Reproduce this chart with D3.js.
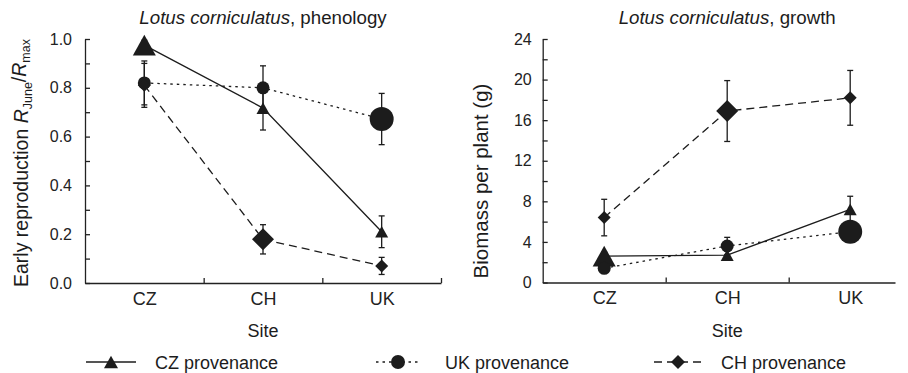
<!DOCTYPE html>
<html>
<head>
<meta charset="utf-8">
<script src="https://cdn.jsdelivr.net/npm/d3@7"></script>
<style>
  body { margin: 0; background: #fff; }
  svg { display: block; font-family: "Liberation Sans", Arial, Helvetica, sans-serif; }
  .axis path, .axis line { stroke: #222; stroke-width: 1.3; }
  .axis text { fill: #222; font-family: "Liberation Sans", Arial, sans-serif; }
</style>
</head>
<body>
<svg id="chart" width="908" height="373"></svg>
<script>
const sites = ['CZ', 'CH', 'UK'];
const provenances = ['CZ provenance', 'UK provenance', 'CH provenance'];
const homeSite = [0, 2, 1]; // index of the site each provenance comes from

// phenology: early reproduction R_June / R_max
const phenCZ = [0.975, 0.717, 0.21];
const phenCZErr = [0.02, 0.09, 0.065];
const phenUK = [0.82, 0.80, 0.672];
const phenUKErr = [0.09, 0.09, 0.105];
const phenCH = [0.81, 0.179, 0.07];
const phenCHErr = [0.09, 0.06, 0.035];
const phenTicks = [0, 0.2, 0.4, 0.6, 0.8, 1.0];
const phenMinor = [0.1, 0.3, 0.5, 0.7, 0.9];

// growth: biomass per plant (g)
const growCZ = [2.6, 2.7, 7.2];
const growCZErr = [0.4, 0.4, 1.3];
const growUK = [1.4, 3.6, 5.0];
const growUKErr = [0.3, 0.85, 0.5];
const growCH = [6.4, 16.9, 18.2];
const growCHErr = [1.8, 3.0, 2.7];
const growTicks = [0, 4, 8, 12, 16, 20, 24];
const growMinor = [2, 6, 10, 14, 18, 22];

const ink = '#1c1c1c';
const styles = [
  { shape: 'triangle', dash: null },
  { shape: 'circle', dash: '2.5,4' },
  { shape: 'diamond', dash: '8,5' }
];

function shapePath(shape, s) {
  // s = half width of the marker
  if (shape === 'triangle') {
    const h = s * 1.8;
    return `M0,${-h / 2}L${s},${h / 2}L${-s},${h / 2}Z`;
  }
  if (shape === 'diamond') {
    return `M0,${-s}L${s},0L0,${s}L${-s},0Z`;
  }
  return d3.symbol().type(d3.symbolCircle).size(Math.PI * s * s)();
}

const svg = d3.select('#chart');

function drawPanel(opt) {
  const x = d3.scaleLinear().domain([-0.5, opt.xEnd]).range([opt.left, opt.right]);
  const y = d3.scaleLinear().domain(opt.yDomain).range([opt.bottom, opt.top]);
  const g = svg.append('g');

  // y axis
  g.append('g').attr('class', 'axis')
    .attr('transform', `translate(${opt.left},0)`)
    .call(d3.axisLeft(y).tickValues(opt.ticks).tickFormat(opt.fmt)
      .tickSizeInner(-5).tickSizeOuter(0).tickPadding(opt.yPad))
    .call(a => a.selectAll('text').style('font-size', '16px'));
  g.append('g').attr('class', 'axis')
    .attr('transform', `translate(${opt.left},0)`)
    .call(d3.axisLeft(y).tickValues(opt.minor).tickFormat('')
      .tickSizeInner(-5).tickSizeOuter(0))
    .call(a => a.select('.domain').remove());

  // x axis: band separators + site labels
  g.append('g').attr('class', 'axis')
    .attr('transform', `translate(0,${opt.bottom})`)
    .call(d3.axisBottom(x).tickValues(opt.xTicks).tickFormat('')
      .tickSizeInner(-5).tickSizeOuter(0));
  g.append('g').attr('class', 'axis')
    .attr('transform', `translate(0,${opt.bottom})`)
    .call(d3.axisBottom(x).tickValues([0, 1, 2]).tickFormat(i => sites[i])
      .tickSize(0).tickPadding(9))
    .call(a => a.select('.domain').remove())
    .call(a => a.selectAll('text').style('font-size', '18px'));

  // series
  opt.series.forEach((vals, si) => {
    const st = styles[si];
    const pts = vals.map((v, i) => ({ i, v, e: opt.errs[si][i] }));
    g.append('path')
      .datum(pts)
      .attr('fill', 'none')
      .attr('stroke', ink)
      .attr('stroke-width', 1.3)
      .attr('stroke-dasharray', st.dash)
      .attr('d', d3.line().x(d => x(d.i)).y(d => y(d.v)));
  });

  opt.series.forEach((vals, si) => {
    const pts = vals.map((v, i) => ({ i, v, e: opt.errs[si][i] }));
    const eb = g.append('g').selectAll('g').data(pts).enter().append('g')
      .attr('stroke', ink).attr('stroke-width', 1.3);
    eb.append('line')
      .attr('x1', d => x(d.i)).attr('x2', d => x(d.i))
      .attr('y1', d => y(d.v - d.e)).attr('y2', d => y(d.v + d.e));
    eb.append('line')
      .attr('x1', d => x(d.i) - 3).attr('x2', d => x(d.i) + 3)
      .attr('y1', d => y(d.v + d.e)).attr('y2', d => y(d.v + d.e));
    eb.append('line')
      .attr('x1', d => x(d.i) - 3).attr('x2', d => x(d.i) + 3)
      .attr('y1', d => y(d.v - d.e)).attr('y2', d => y(d.v - d.e));
  });

  opt.series.forEach((vals, si) => {
    const st = styles[si];
    const pts = vals.map((v, i) => ({ i, v }));
    g.append('g').selectAll('path').data(pts).enter().append('path')
      .attr('transform', d => `translate(${x(d.i)},${y(d.v)})`)
      .attr('d', d => {
        const big = d.i === homeSite[si];
        if (st.shape === 'circle') return shapePath('circle', big ? 12 : 6.5);
        if (st.shape === 'triangle') return shapePath('triangle', big ? 11.5 : 6.5);
        return shapePath('diamond', big ? 11 : 6.5);
      })
      .attr('fill', ink);
  });

  // title
  const title = g.append('text')
    .attr('x', x(1)).attr('y', 24)
    .attr('text-anchor', 'middle')
    .style('font-size', '18.7px').attr('fill', ink);
  title.append('tspan').style('font-style', 'italic').text('Lotus corniculatus');
  title.append('tspan').text(', ' + opt.titleSuffix);

  // x label
  g.append('text')
    .attr('x', x(1)).attr('y', 337)
    .attr('text-anchor', 'middle')
    .style('font-size', '18px').attr('fill', ink)
    .text('Site');

  return { x, y, g };
}

drawPanel({
  left: 85, right: 441, xEnd: 2.5, top: 39, bottom: 283,
  yDomain: [0, 1], ticks: phenTicks, minor: phenMinor, fmt: d3.format('.1f'), yPad: 13,
  xTicks: [0.5, 1.5, 2.5],
  series: [phenCZ, phenUK, phenCH], errs: [phenCZErr, phenUKErr, phenCHErr],
  titleSuffix: 'phenology'
});

drawPanel({
  left: 542.7, right: 895, xEnd: (895 - 542.7) / 123 - 0.5, top: 39, bottom: 282.5,
  yDomain: [0, 24], ticks: growTicks, minor: growMinor, fmt: d3.format('d'), yPad: 11,
  xTicks: [0.5, 1.5],
  series: [growCZ, growUK, growCH], errs: [growCZErr, growUKErr, growCHErr],
  titleSuffix: 'growth'
});

// y labels
const yl = svg.append('text')
  .attr('transform', 'translate(28,163) rotate(-90)')
  .attr('text-anchor', 'middle')
  .style('font-size', '19.5px').attr('fill', ink);
yl.append('tspan').text('Early reproduction ');
yl.append('tspan').style('font-style', 'italic').text('R');
yl.append('tspan').attr('dy', '0.3em').style('font-size', '12.5px').text('June');
yl.append('tspan').attr('dy', '-0.3em').text('/');
yl.append('tspan').style('font-style', 'italic').text('R');
yl.append('tspan').attr('dy', '0.3em').style('font-size', '12.5px').text('max');

svg.append('text')
  .attr('transform', 'translate(488,181) rotate(-90)')
  .attr('text-anchor', 'middle')
  .style('font-size', '20.5px').attr('fill', ink)
  .text('Biomass per plant (g)');

// legend
const legendX = [86, 376, 654];
const legendW = [50, 44, 48];
const legend = svg.append('g').selectAll('g').data(provenances).enter().append('g')
  .attr('transform', (d, i) => `translate(${legendX[i]},362)`);
legend.append('line')
  .attr('x1', 0).attr('x2', (d, i) => legendW[i])
  .attr('stroke', ink).attr('stroke-width', 1.3)
  .attr('stroke-dasharray', (d, i) => styles[i].dash);
legend.append('path')
  .attr('transform', (d, i) => `translate(${legendW[i] / 2},0)`)
  .attr('d', (d, i) => shapePath(styles[i].shape, 7))
  .attr('fill', ink);
legend.append('text')
  .attr('x', (d, i) => legendW[i] + 19 + (i === 1 ? 6 : 0))
  .attr('y', 6.5)
  .style('font-size', '18px').attr('fill', ink)
  .text(d => d);
</script>
</body>
</html>
